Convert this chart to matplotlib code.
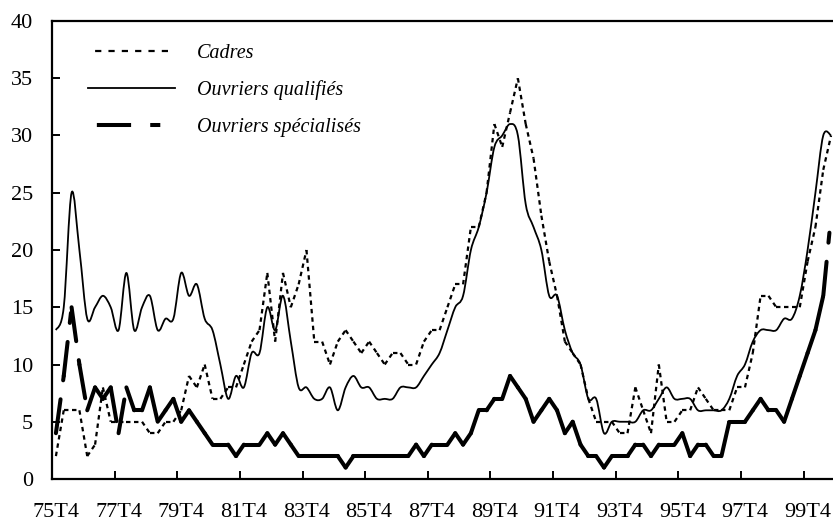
import numpy as np
import matplotlib
matplotlib.use("Agg")
import matplotlib.pyplot as plt
from matplotlib.collections import LineCollection
from matplotlib.lines import Line2D
from matplotlib.path import Path
from matplotlib.patches import PathPatch

plt.rcParams['font.family'] = ['Liberation Serif', 'DejaVu Serif']

# quarters 75T4 .. 00T3
quarters = ["75T4"] + [f"{y % 100:02d}T{q}" for y in range(76, 101) for q in range(1, 5)]
quarters = quarters[:100]
tick_labels = quarters[::8]

cadres = [2, 6, 6, 6, 2, 3, 8, 5, 5, 5,
          5, 5, 4, 4, 5, 5, 6, 9, 8, 10,
          7, 7, 8, 8, 10, 12, 13, 18, 12, 18,
          15, 17, 20, 12, 12, 10, 12, 13, 12, 11,
          12, 11, 10, 11, 11, 10, 10, 12, 13, 13,
          15, 17, 17, 22, 22, 25, 31, 29, 32, 35,
          31, 28, 23, 19, 16, 12, 11, 10, 7, 5,
          5, 5, 4, 4, 8, 6, 4, 10, 5, 5,
          6, 6, 8, 7, 6, 6, 6, 8, 8, 11,
          16, 16, 15, 15, 15, 15, 19, 22, 27, 30]

ouvriers_qualifies = [13, 15, 25, 20, 14, 15, 16, 15, 13, 18,
                      13, 15, 16, 13, 14, 14, 18, 16, 17, 14,
                      13, 10, 7, 9, 8, 11, 11, 15, 13, 16,
                      12, 8, 8, 7, 7, 8, 6, 8, 9, 8,
                      8, 7, 7, 7, 8, 8, 8, 9, 10, 11,
                      13, 15, 16, 20, 22, 25, 29, 30, 31, 30,
                      24, 22, 20, 16, 16, 13, 11, 10, 7, 7,
                      4, 5, 5, 5, 5, 6, 6, 7, 8, 7,
                      7, 7, 6, 6, 6, 6, 7, 9, 10, 12,
                      13, 13, 13, 14, 14, 16, 20, 25, 30, 30]

ouvriers_specialises = [4, 9, 15, 10, 6, 8, 7, 8, 4, 8,
                        6, 6, 8, 5, 6, 7, 5, 6, 5, 4,
                        3, 3, 3, 2, 3, 3, 3, 4, 3, 4,
                        3, 2, 2, 2, 2, 2, 2, 1, 2, 2,
                        2, 2, 2, 2, 2, 2, 3, 2, 3, 3,
                        3, 4, 3, 4, 6, 6, 7, 7, 9, 8,
                        7, 5, 6, 7, 6, 4, 5, 3, 2, 2,
                        1, 2, 2, 2, 3, 3, 2, 3, 3, 3,
                        4, 2, 3, 3, 2, 2, 5, 5, 5, 6,
                        7, 6, 6, 5, 7, 9, 11, 13, 16, 23]

series_names = ["Cadres", "Ouvriers qualifiés", "Ouvriers spécialisés"]

# dash patterns (in line widths), restarted on every segment like the original
dots = (2.0, 1.8)
long_dash_dot = (8.5, 4.75, 2.5, 4.75)


def segments(x, y):
    pts = np.column_stack([x, y])
    return np.stack([pts[:-1], pts[1:]], axis=1)


def smooth_path(x, y):
    pts = np.column_stack([x, y]).astype(float)
    n = len(pts)
    verts = [pts[0]]
    codes = [Path.MOVETO]
    for i in range(n - 1):
        p0 = pts[i - 1] if i > 0 else pts[i]
        p1 = pts[i]
        p2 = pts[i + 1]
        p3 = pts[i + 2] if i + 2 < n else pts[i + 1]
        verts += [p1 + (p2 - p0) / 6, p2 - (p3 - p1) / 6, p2]
        codes += [Path.CURVE4] * 3
    return Path(verts, codes)


fig = plt.figure(figsize=(8.33, 5.24), dpi=100)
ax = fig.add_axes([52 / 833, 45 / 524, 783 / 833, 458 / 524])

x = np.arange(len(quarters)) + 0.5

lc_cadres = LineCollection(segments(x, cadres), colors='black', linewidths=1.6,
                           linestyles=[(0, dots)], capstyle='butt')
ax.add_collection(lc_cadres)

ax.add_patch(PathPatch(smooth_path(x, ouvriers_qualifies), fill=False,
                       edgecolor='black', lw=1.3, joinstyle='round'))

lc_os = LineCollection(segments(x, ouvriers_specialises), colors='black', linewidths=2.9,
                       linestyles=[(0, long_dash_dot)], capstyle='round', joinstyle='round')
ax.add_collection(lc_os)

ax.set_xlim(0, len(quarters))
ax.set_ylim(0, 40)

ax.set_xticks(np.arange(0, len(quarters), 8))
ax.set_xticklabels([])
ax.set_xticks(np.arange(0, len(quarters), 8) + 0.5, minor=True)
ax.set_xticklabels(tick_labels, minor=True)
ax.tick_params(axis='x', which='major', direction='in', length=6, width=1.4)
ax.tick_params(axis='x', which='minor', length=0, pad=17, labelsize=16)

ax.set_yticks(np.arange(0, 41, 5))
ax.tick_params(axis='y', direction='in', length=6, width=1.4, pad=13.5, labelsize=16)

for side in ['left', 'top', 'bottom']:
    ax.spines[side].set_linewidth(1.6)
ax.spines['right'].set_visible(False)

handles = [
    Line2D([], [], color='black', lw=1.6, linestyle=(2.8, (2.8, 3.2)), dash_capstyle='butt'),
    Line2D([], [], color='black', lw=1.3),
    Line2D([], [], color='black', lw=2.9, linestyle=(18.3, long_dash_dot), dash_capstyle='butt'),
]
ax.legend(handles, series_names, loc='upper left', bbox_to_anchor=(0.046, 0.949),
          frameon=False, borderpad=0, borderaxespad=0, handlelength=4.3,
          handletextpad=1.1, labelspacing=0.85,
          prop={'family': 'Liberation Serif', 'style': 'italic', 'size': 14.5})

fig.savefig("out.png", dpi=100)
